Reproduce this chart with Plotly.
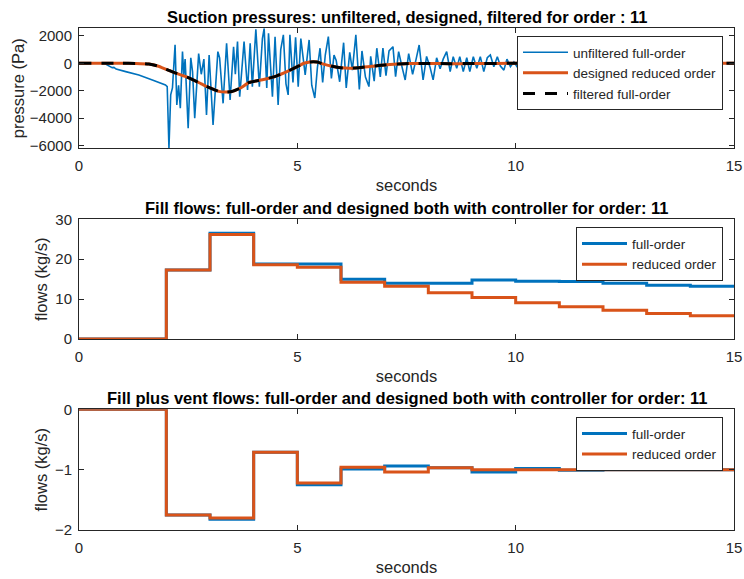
import plotly.graph_objects as go

# ---------------- data ----------------
# Top: unfiltered full-order suction pressure (Pa)
t_unf = [0, 0.6, 0.64, 0.7, 0.76, 0.8, 0.85, 1.07, 1.37, 1.68, 1.98, 2.02, 2.06, 2.1, 2.14, 2.2,
         2.24, 2.28, 2.32, 2.37, 2.40, 2.43, 2.50, 2.56, 2.60, 2.65, 2.74, 2.80, 2.86, 2.92, 2.98,
         3.07, 3.18, 3.22, 3.30, 3.38, 3.46, 3.54, 3.58, 3.63, 3.68, 3.78, 3.86, 3.92, 3.97, 4.05,
         4.13, 4.20, 4.24, 4.30, 4.34, 4.43, 4.49, 4.56, 4.62, 4.68, 4.74, 4.79, 4.83, 4.90, 4.96,
         5.02, 5.08, 5.18, 5.27, 5.33, 5.40, 5.46, 5.52, 5.58, 5.64, 5.71, 5.78, 5.84, 5.89, 5.97,
         6.06, 6.12, 6.20, 6.26, 6.34, 6.42, 6.48, 6.56, 6.64, 6.68, 6.76, 6.82, 6.90, 6.96, 7.03,
         7.10, 7.19, 7.25, 7.32, 7.40, 7.47, 7.55, 7.64, 7.72, 7.79, 7.88, 7.96, 8.04, 8.11, 8.19,
         8.27, 8.34, 8.42, 8.50, 8.57, 8.65, 8.72, 8.80, 8.88, 8.95, 9.03, 9.11, 9.19, 9.27, 9.35,
         9.42, 9.50, 9.58, 9.65, 9.73, 9.80, 9.88, 9.96, 10.04, 10.12, 10.20, 10.28, 10.36, 10.44,
         10.6, 10.8, 11.0, 11.2, 11.5, 11.8, 12.1, 12.4, 12.8, 13.2, 13.6, 14.0, 14.4, 14.8, 15.0]
p_unf = [0, 0, -120, -250, -320, -300, -420, -610, -850, -1220, -1580, -1700, -6200, -2300, -1800, 1340,
         -3040, -1600, -3280, 850, -900, 300, -4740, 400, -600, -4000, 700, -800, 300, -3770, 600,
         -4500, 850, 400, -2920, 1460, -2680, 1200, -800, 1580, -2430, 1580, -1950, 1460, -1700, 2480,
         -1700, 1800, 2550, -1800, 2190, -2430, 1940, -3040, 1000, 2070, -1500, -2310, 2070, -1400, 1900,
         -1700, 1800, -850, 1700, -1600, -2530, -300, 1100, -1400, 600, 1940, -1100, 600, 200, -1350,
         1500, -1800, 800, -500, 2070, -1900, 900, -1000, -1700, 500, -1300, 1100, -1000, 1100, -900,
         900, 1210, -980, 850, -300, -1220, 700, -800, 300, 1330, -1220, 500, -300, -1210, 400,
         -400, 300, 850, -610, 480, -370, 480, -610, 400, -610, 480, -370, 480, -610, 400,
         610, -250, 480, -200, -500, 300, -250, 100, -300, 350, -300, 300, -250, 250,
         -200, 200, -180, 150, -150, 120, -100, 100, -80, 70, -60, 40, -30, 20, 0]

# Top: designed reduced order / filtered full-order (Pa)
t_des = [0, 1.0, 1.3, 1.6, 1.8, 2.0, 2.2, 2.5, 2.8, 3.0, 3.2, 3.35, 3.5, 3.7, 3.9, 4.2, 4.5, 4.8,
         5.0, 5.15, 5.3, 5.45, 5.6, 5.8, 6.0, 6.2, 6.4, 6.7, 7.0, 7.3, 7.6, 8.0, 8.5, 9.0, 10.0, 15.0]
p_des = [0, 0, -10, -60, -200, -450, -700, -1050, -1500, -1800, -2050, -2100, -2060, -1800, -1400,
         -1200, -950, -550, -250, 0, 100, 90, -60, -220, -330, -360, -320, -220, -120, -60, -20,
         -10, -30, -20, 0, 0]
p_filt = p_des

# Middle: fill flows (kg/s), step values held over each second
t_step = list(range(16))
fill_full = [0, 0, 17.3, 26.5, 18.8, 18.8, 15.0, 14.0, 14.0, 14.8, 14.5, 14.4, 14.0, 13.5, 13.2, 13.2]
fill_red = [0, 0, 17.3, 26.2, 18.6, 18.0, 14.2, 13.2, 11.6, 10.4, 9.1, 8.1, 7.2, 6.4, 5.8, 5.8]

# Bottom: fill plus vent flows (kg/s)
vent_full = [0, 0, -1.75, -1.82, -0.71, -1.25, -0.99, -0.94, -0.97, -1.04, -0.98, -1.01, -1.0, -1.0, -1.0, -1.0]
vent_red = [0, 0, -1.75, -1.80, -0.71, -1.22, -0.96, -1.04, -0.97, -1.0, -1.0, -1.0, -1.0, -1.0, -1.0, -1.0]

titles = ["Suction pressures: unfiltered, designed, filtered for order : 11",
          "Fill flows: full-order and designed both with controller for order: 11",
          "Fill plus vent flows: full-order and designed both with controller for order: 11"]

BLUE = "#0072BD"
ORANGE = "#D95319"
W, H = 744, 579
FONT = "Liberation Sans, Arial, Helvetica, sans-serif"
AX = "#262626"

def py(v):
    return 1 - v / H

fig = go.Figure()
fig.add_trace(go.Scatter(x=t_unf, y=p_unf, mode="lines", name="unfiltered full-order",
                         line=dict(color=BLUE, width=1.6), xaxis="x", yaxis="y", legend="legend"))
fig.add_trace(go.Scatter(x=t_des, y=p_des, mode="lines", name="designed reduced order",
                         line=dict(color=ORANGE, width=3, shape="spline", smoothing=0.6),
                         xaxis="x", yaxis="y", legend="legend"))
fig.add_trace(go.Scatter(x=t_des, y=p_filt, mode="lines", name="filtered full-order",
                         line=dict(color="black", width=3, dash="12px,10px", shape="spline", smoothing=0.6),
                         xaxis="x", yaxis="y", legend="legend"))

fig.add_trace(go.Scatter(x=t_step, y=fill_full, mode="lines", name="full-order",
                         line=dict(color=BLUE, width=3, shape="hv"), xaxis="x2", yaxis="y2", legend="legend2"))
fig.add_trace(go.Scatter(x=t_step, y=fill_red, mode="lines", name="reduced order",
                         line=dict(color=ORANGE, width=3, shape="hv"), xaxis="x2", yaxis="y2", legend="legend2"))

fig.add_trace(go.Scatter(x=t_step, y=vent_full, mode="lines", name="full-order",
                         line=dict(color=BLUE, width=3, shape="hv"), xaxis="x3", yaxis="y3", legend="legend3"))
fig.add_trace(go.Scatter(x=t_step, y=vent_red, mode="lines", name="reduced order",
                         line=dict(color=ORANGE, width=3, shape="hv"), xaxis="x3", yaxis="y3", legend="legend3"))

xdom = [79 / W, 734 / W]
ydoms = [[py(148.3), py(28.3)], [py(339), py(219.3)], [py(530), py(409.3)]]
yranges = [[-6200, 2550], [0, 30], [-2, 0]]
yticks = [[-6000, -4000, -2000, 0, 2000], [0, 10, 20, 30], [-2, -1, 0]]
ylabels = ["pressure (Pa)", "flows (kg/s)", "flows (kg/s)"]
ystand = [1, 3, 3]

common = dict(showline=True, linecolor=AX, linewidth=1, mirror="ticks", ticks="inside",
              ticklen=5, tickcolor=AX, tickwidth=1, showgrid=False, zeroline=False,
              automargin=False, tickfont=dict(family=FONT, size=15, color=AX))

layout = dict(width=W, height=H, margin=dict(l=0, r=0, t=0, b=0, autoexpand=False),
              paper_bgcolor="white", plot_bgcolor="white",
              font=dict(family=FONT, color=AX), annotations=[])

for i in range(3):
    s = "" if i == 0 else str(i + 1)
    layout["xaxis" + s] = dict(domain=xdom, range=[0, 15], tickvals=[0, 5, 10, 15],
                               anchor="y" + s, ticklabelstandoff=4,
                               title=dict(text="seconds", font=dict(family=FONT, size=16.5, color=AX), standoff=6),
                               **common)
    layout["yaxis" + s] = dict(domain=ydoms[i], range=yranges[i], tickvals=yticks[i],
                               anchor="x" + s, ticklabelstandoff=3,
                               title=dict(text=ylabels[i], font=dict(family=FONT, size=16.5, color=AX), standoff=ystand[i]),
                               **common)
    layout["annotations"].append(dict(text="<b>%s</b>" % titles[i], xref="paper", yref="paper",
                                      x=(xdom[0] + xdom[1]) / 2, y=ydoms[i][1], xanchor="center",
                                      yanchor="bottom", yshift=0, showarrow=False,
                                      font=dict(family=FONT, size=16.5, color="black")))

leg_common = dict(bgcolor="white", bordercolor=AX, borderwidth=1, xanchor="right", yanchor="top",
                  font=dict(family=FONT, size=13.5, color=AX), itemwidth=45,
                  tracegroupgap=0)
layout["legend"] = dict(x=723 / W, y=py(36), **leg_common)
layout["legend2"] = dict(x=723 / W, y=py(227.3), **leg_common)
layout["legend3"] = dict(x=723 / W, y=py(417.3), **leg_common)
layout["showlegend"] = True

fig.update_layout(**layout)
fig.write_html("out.html")
